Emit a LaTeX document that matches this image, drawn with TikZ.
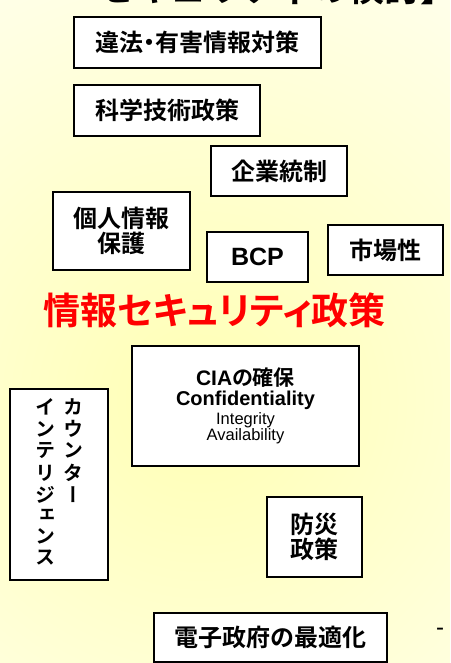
\documentclass[tikz,border=0pt]{standalone}
\usepackage{fontspec}
\setmainfont{Liberation Sans}
\newfontfamily\jp{Noto Sans CJK JP}[BoldFont={Noto Sans CJK JP Bold},RawFeature=+palt]
\newfontfamily\jpfull{Noto Sans CJK JP}[BoldFont={Noto Sans CJK JP Bold}]
\newfontfamily\jpv{Noto Sans CJK JP}[BoldFont={Noto Sans CJK JP Bold},RawFeature=+vert]
\definecolor{haikei}{RGB}{255,255,180}

\begin{document}
\begin{tikzpicture}[x=1pt,y=-1pt,
  box/.style={draw,line width=1.1pt,fill=white,inner sep=0pt,align=center,
    font=\jp\bfseries\fontsize{24}{25.5}\selectfont},
  eigo/.style={anchor=base,inner sep=0pt}]
  \useasboundingbox (0,0) rectangle (450,663);
  \begin{scope}
    \clip (0,0) rectangle (450,663);
    \shade[inner color=haikei,outer color=white] (200,400) circle (660pt);
  \end{scope}
  \node[anchor=base west,inner sep=0pt,font=\jpfull\bfseries\fontsize{36}{36}\selectfont] (midashi) at (98,2) {セキュリティの検討】};
  \node[box,minimum width=247pt,minimum height=51pt] (ihou) at (197.5,42.5) {違法・有害情報対策};
  \node[box,minimum width=186pt,minimum height=51pt] (kagaku) at (167,110.5) {科学技術政策};
  \node[box,minimum width=136pt,minimum height=50pt] (kigyou) at (279,171) {企業統制};
  \node[box,minimum width=137pt,minimum height=78pt] (kojin) at (121.5,231) {個人情報\\保護};
  \node[box,minimum width=101pt,minimum height=50pt,font=\bfseries\fontsize{25}{27}\selectfont] (bcp) at (257.5,257) {BCP};
  \node[box,minimum width=115pt,minimum height=50pt] (shijou) at (385.5,250) {市場性};
  \node[font=\jp\bfseries\fontsize{37}{40}\selectfont,text=red] (seisaku) at (214.5,310) {情報セキュリティ政策};
  \node[box,minimum width=227pt,minimum height=120pt] (cia) at (245.5,406) {};
  \node[eigo,font=\bfseries\fontsize{21}{21}\selectfont] (ciaT) at (245.5,385) {CIA{\jp の確保}};
  \node[eigo,font=\bfseries\fontsize{20}{20}\selectfont] (conf) at (245.5,405) {Confidentiality};
  \node[eigo,font=\fontsize{16.5}{16.5}\selectfont] (integ) at (245.5,424) {Integrity};
  \node[eigo,font=\fontsize{16.5}{16.5}\selectfont] (avail) at (245.5,440) {Availability};
  \node[box,minimum width=98pt,minimum height=191pt,font=\jpv\bfseries\fontsize{20}{20.4}\selectfont] (counter) at (59,484.5)
    {\begin{tabular}{@{}c@{\hspace{8pt}}c@{}}
      イ & カ \\ ン & ウ \\ テ & ン \\ リ & タ \\ ジ & ー \\ ェ & \\ ン & \\ ス &
    \end{tabular}};
  \node[box,minimum width=95pt,minimum height=80pt] (bousai) at (314.5,537) {防災\\政策};
  \node[box,minimum width=233pt,minimum height=49pt] (denshi) at (270.5,637.5) {電子政府の最適化};
  \node[font=\fontsize{24}{24}\selectfont] (dash) at (440,632) {-};
\end{tikzpicture}
\end{document}
